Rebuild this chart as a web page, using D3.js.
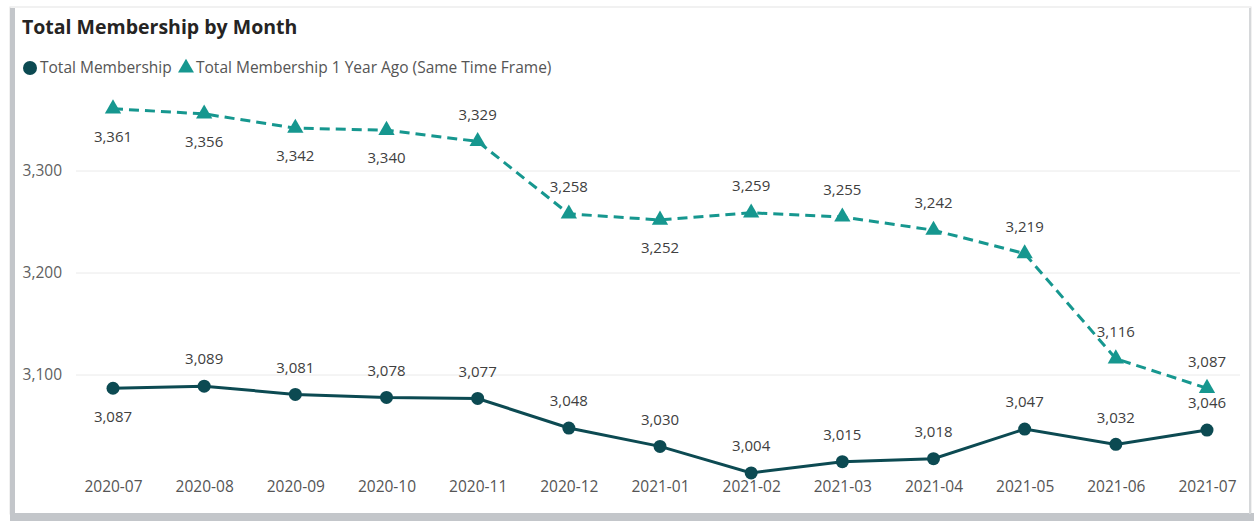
<!DOCTYPE html>
<html>
<head>
<meta charset="utf-8">
<script src="https://cdn.jsdelivr.net/npm/d3@7"></script>
<style>
	body { margin: 0; background: #ffffff; }
	#chart { width: 1254px; height: 521px; }
</style>
</head>
<body>
<div id="chart"></div>
<script>
const months = ['2020-07', '2020-08', '2020-09', '2020-10', '2020-11', '2020-12', '2021-01', '2021-02', '2021-03', '2021-04', '2021-05', '2021-06', '2021-07'];
const membership = [3087, 3089, 3081, 3078, 3077, 3048, 3030, 3004, 3015, 3018, 3047, 3032, 3046];
const membershipYearAgo = [3361, 3356, 3342, 3340, 3329, 3258, 3252, 3259, 3255, 3242, 3219, 3116, 3087];
// which side Power BI put each data label on
const membershipLabelSide = ['below', 'above', 'above', 'above', 'above', 'above', 'above', 'above', 'above', 'above', 'above', 'above', 'above'];
const yearAgoLabelSide = ['below', 'below', 'below', 'below', 'above', 'above', 'below', 'above', 'above', 'above', 'above', 'above', 'above'];
const yTicks = [3100, 3200, 3300];

const W = 1254, H = 521;
const dark = '#0c4a52', teal = '#16978f';
const textColor = '#404040';
const font = '"Open Sans", "Noto Sans", sans-serif';

const svg = d3.select('#chart').append('svg')
	.attr('width', W)
	.attr('height', H);

// card frame
svg.append('rect').attr('x', 0).attr('y', 0).attr('width', W).attr('height', H).attr('fill', '#ffffff');
svg.append('rect').attr('x', 10).attr('y', 7).attr('width', 1241).attr('height', 507)
	.attr('fill', '#ffffff').attr('stroke', '#e4e4e4').attr('stroke-width', 1);
svg.append('rect').attr('x', 10).attr('y', 8).attr('width', 5).attr('height', 513).attr('fill', '#c3c6ca');
svg.append('rect').attr('x', 10).attr('y', 513).attr('width', 1244).attr('height', 8).attr('fill', '#c3c6ca');
svg.append('rect').attr('x', 1249).attr('y', 8).attr('width', 2).attr('height', 506).attr('fill', '#d6d8da');

// title
svg.append('text')
	.attr('x', 22).attr('y', 34)
	.style('font-family', font).style('font-size', '19.5px').style('font-weight', '700')
	.style('fill', '#252423')
	.text('Total Membership by Month');

// legend
const legend = svg.append('g').attr('transform', 'translate(0,68)');
legend.append('circle').attr('cx', 30).attr('cy', 0).attr('r', 7).attr('fill', dark);
legend.append('text').attr('x', 40).attr('y', 5)
	.style('font-family', font).style('font-size', '15.5px').style('fill', '#555')
	.text('Total Membership');
legend.append('path').attr('d', d3.symbol().type(d3.symbolTriangle).size(110)).attr('transform', 'translate(186,0)').attr('fill', teal);
legend.append('text').attr('x', 196).attr('y', 5)
	.style('font-family', font).style('font-size', '15.5px').style('fill', '#555')
	.text('Total Membership 1 Year Ago (Same Time Frame)');

// scales
const x = d3.scalePoint().domain(months).range([113, 1207]);
const y = d3.scaleLinear().domain([3100, 3300]).range([375, 171]);

// gridlines
svg.append('g')
	.selectAll('line')
	.data(yTicks)
	.enter()
	.append('line')
	.attr('x1', 76).attr('x2', 1240)
	.attr('y1', d => y(d)).attr('y2', d => y(d))
	.attr('stroke', '#eaeaea').attr('stroke-width', 1);

// y axis labels
const yAxis = svg.append('g')
	.attr('transform', 'translate(70,0)')
	.call(d3.axisLeft(y).tickValues(yTicks).tickFormat(d3.format(',')).tickSize(0).tickPadding(8));
yAxis.select('.domain').remove();
yAxis.selectAll('text')
	.style('font-family', font).style('font-size', '15.5px').style('fill', '#606060');

// x axis labels
const xAxis = svg.append('g')
	.attr('transform', 'translate(0,481)')
	.call(d3.axisBottom(x).tickSize(0).tickPadding(0));
xAxis.select('.domain').remove();
xAxis.selectAll('text')
	.attr('dy', '0.71em')
	.style('font-family', font).style('font-size', '15.5px').style('fill', '#555');

const line = d3.line().x((d, i) => x(months[i])).y(d => y(d));

// 1 year ago series
svg.append('path')
	.datum(membershipYearAgo)
	.attr('d', line)
	.attr('fill', 'none')
	.attr('stroke', teal)
	.attr('stroke-width', 3)
	.attr('stroke-dasharray', '10,6');
svg.selectAll('.tri')
	.data(membershipYearAgo)
	.enter()
	.append('path')
	.attr('class', 'tri')
	.attr('d', d3.symbol().type(d3.symbolTriangle).size(115))
	.attr('transform', (d, i) => `translate(${x(months[i])},${y(d)})`)
	.attr('fill', teal);

// current series
svg.append('path')
	.datum(membership)
	.attr('d', line)
	.attr('fill', 'none')
	.attr('stroke', dark)
	.attr('stroke-width', 3);
svg.selectAll('.dot')
	.data(membership)
	.enter()
	.append('circle')
	.attr('class', 'dot')
	.attr('cx', (d, i) => x(months[i]))
	.attr('cy', d => y(d))
	.attr('r', 6.5)
	.attr('fill', dark);

// data labels
function labels(values, sides, cls) {
	svg.selectAll('.' + cls)
		.data(values)
		.enter()
		.append('text')
		.attr('class', cls)
		.attr('x', (d, i) => x(months[i]))
		.attr('y', (d, i) => y(d) + (sides[i] === 'above' ? -27 : 28))
		.attr('dy', '0.35em')
		.attr('text-anchor', 'middle')
		.style('font-family', font)
		.style('font-size', '15px')
		.style('fill', textColor)
		.text(d => d3.format(',')(d));
}
labels(membership, membershipLabelSide, 'lbl-cur');
labels(membershipYearAgo, yearAgoLabelSide, 'lbl-ago');
</script>
</body>
</html>
